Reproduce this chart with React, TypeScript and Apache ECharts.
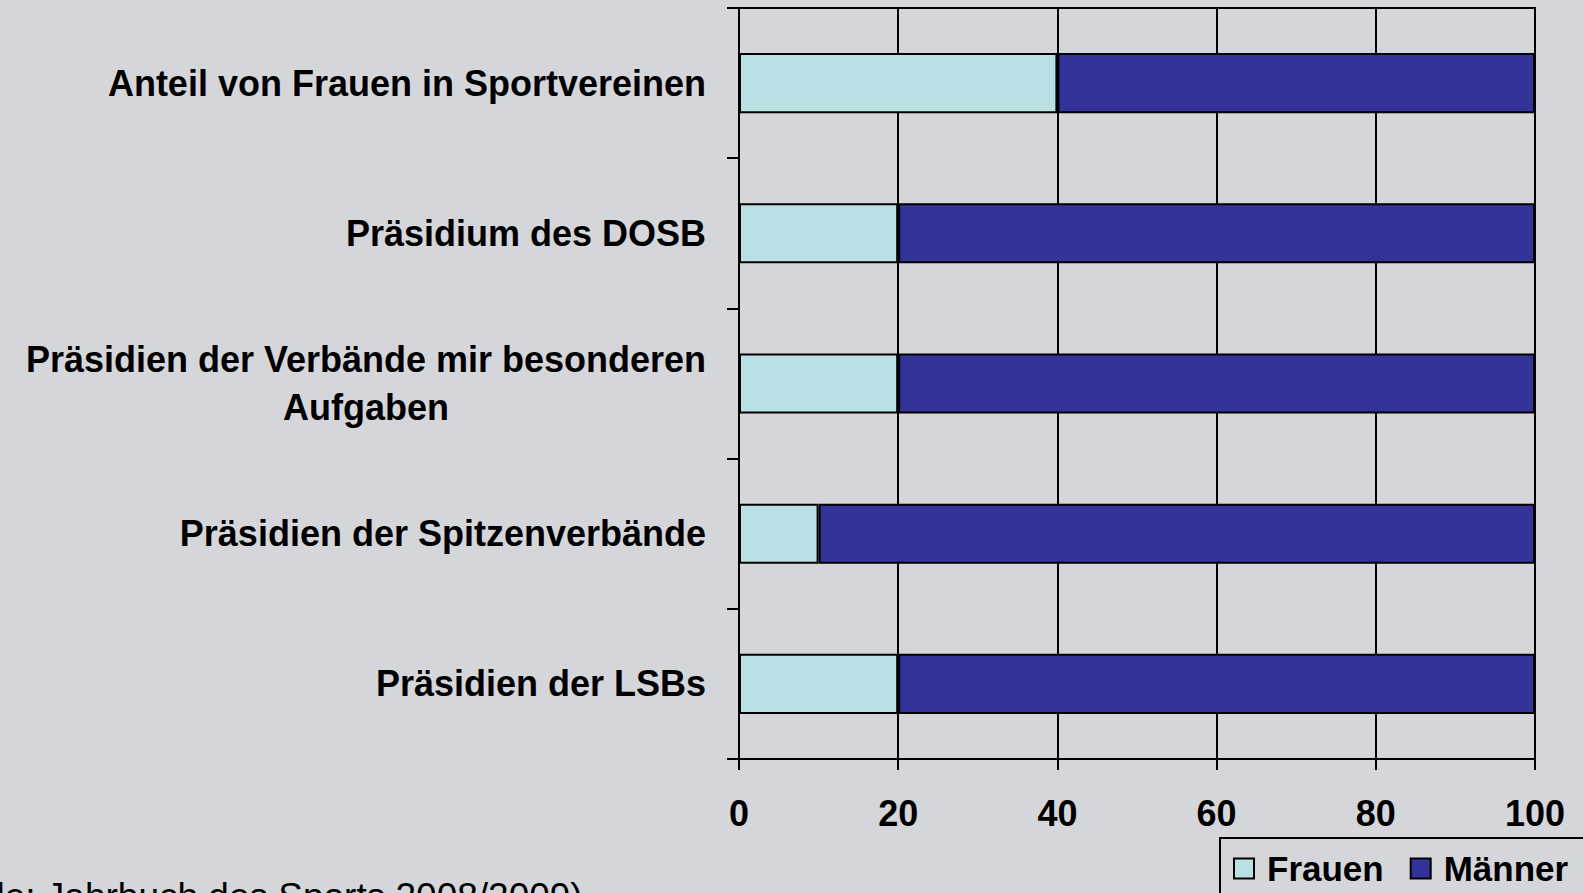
import React, { useEffect, useRef } from "react";
import * as echarts from "echarts";

const categories = [
  "Anteil von Frauen in Sportvereinen",
  "Präsidium des DOSB",
  "Präsidien der Verbände mir besonderen\nAufgaben",
  "Präsidien der Spitzenverbände",
  "Präsidien der LSBs",
];
const frauen = [40, 20, 20, 10, 20];
const maenner = [60, 80, 80, 90, 80];
const seriesNames = ["Frauen", "Männer"];
const xTicks = { min: 0, max: 100, interval: 20 };
const sourceText = "(Quelle: Jahrbuch des Sports 2008/2009)";

const BG = "#d5d6da";
const FONT = "'Liberation Sans', Arial, sans-serif";

export default function App() {
  const ref = useRef<HTMLDivElement>(null);
  useEffect(() => {
    document.body.style.margin = "0";
    const chart = echarts.init(ref.current!, null, { renderer: "svg" });
    chart.setOption({
      animation: false,
      backgroundColor: BG,
      textStyle: { fontFamily: FONT, color: "#000" },
      grid: {
        left: 739,
        top: 8,
        right: 48,
        bottom: 134,
        outerBoundsMode: "none",
        containLabel: false,
        show: true,
        borderColor: "#000",
        borderWidth: 2,
        backgroundColor: "transparent",
      },
      xAxis: {
        type: "value",
        min: xTicks.min,
        max: xTicks.max,
        interval: xTicks.interval,
        axisLine: { show: true, lineStyle: { color: "#000", width: 2 } },
        axisTick: { show: true, length: 11, lineStyle: { color: "#000", width: 2 } },
        splitLine: { show: true, lineStyle: { color: "#000", width: 2 } },
        axisLabel: {
          color: "#000",
          fontWeight: "bold",
          fontSize: 36,
          margin: 36,
          fontFamily: FONT,
        },
      },
      yAxis: {
        type: "category",
        inverse: true,
        data: categories,
        axisLine: { show: true, lineStyle: { color: "#000", width: 2 } },
        axisTick: { show: true, length: 12, lineStyle: { color: "#000", width: 2 } },
        axisLabel: {
          margin: 33,
          color: "#000",
          formatter: (v: string) => {
            const lines = v.split("\n");
            if (lines.length > 1) return lines.map((l) => `{c|${l}}`).join("\n");
            return `{a|${v}}`;
          },
          rich: {
            a: {
              fontFamily: FONT,
              fontWeight: "bold",
              fontSize: 36,
              color: "#000",
              lineHeight: 48,
            },
            c: {
              fontFamily: FONT,
              fontWeight: "bold",
              fontSize: 36,
              color: "#000",
              lineHeight: 48,
              width: 680,
              align: "center",
            },
          },
        },
      },
      legend: {
        left: 1220,
        top: 838,
        width: 440,
        orient: "horizontal",
        data: seriesNames,
        icon: "rect",
        itemWidth: 20,
        itemHeight: 20,
        itemGap: 26,
        padding: [13, 30, 13, 13],
        borderColor: "#000",
        borderWidth: 2,
        textStyle: {
          fontSize: 35,
          fontWeight: "bold",
          color: "#000",
          padding: [0, 0, 0, 8],
          fontFamily: FONT,
        },
      },
      graphic: [
        {
          type: "text",
          left: -94,
          top: 878,
          style: {
            text: sourceText,
            fontSize: 37,
            fill: "#000",
            fontFamily: FONT,
          },
        },
      ],
      series: [
        {
          name: seriesNames[0],
          type: "bar",
          stack: "total",
          data: frauen,
          barCategoryGap: "60%",
          itemStyle: { color: "#b9e0e3", borderColor: "#000", borderWidth: 2 },
        },
        {
          name: seriesNames[1],
          type: "bar",
          stack: "total",
          data: maenner,
          barCategoryGap: "60%",
          itemStyle: { color: "#333399", borderColor: "#000", borderWidth: 2 },
        },
      ],
    });
    return () => chart.dispose();
  }, []);
  return (
    <div
      ref={ref}
      style={{ position: "fixed", left: 0, top: 0, width: 1583, height: 893 }}
    />
  );
}
